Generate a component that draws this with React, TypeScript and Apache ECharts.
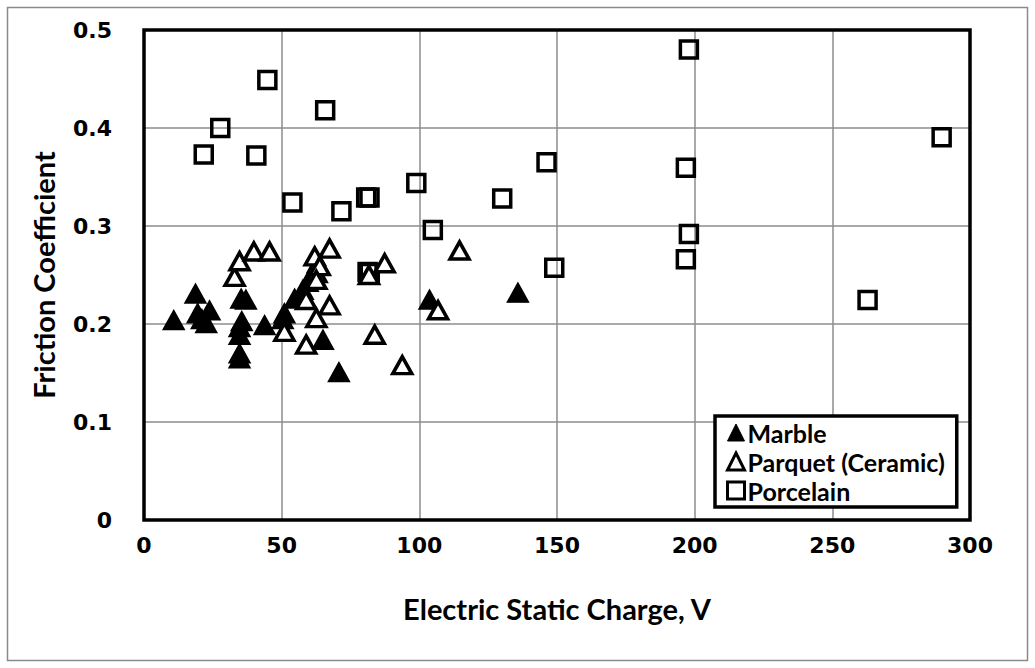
import React, { useEffect, useRef } from "react";
import * as echarts from "echarts";

const xTicks = [0, 50, 100, 150, 200, 250, 300];
const yTicks = [0, 0.1, 0.2, 0.3, 0.4, 0.5];

const marble: number[][] = [
  [10.8, 0.204], [18.7, 0.231], [19.5, 0.211], [23.8, 0.214], [22.6, 0.201], [21, 0.205],
  [35.3, 0.226], [37, 0.225], [34.7, 0.197], [35.5, 0.203], [34.7, 0.189], [34.7, 0.17],
  [34.7, 0.165], [43.8, 0.199], [51, 0.211], [50.4, 0.205], [54.7, 0.226], [57.7, 0.235],
  [59.5, 0.243], [61, 0.25], [63, 0.262], [65, 0.184], [70.8, 0.151], [103.7, 0.225],
  [135.8, 0.232],
];

const parquet: number[][] = [
  [32.9, 0.248], [34.7, 0.264], [39.9, 0.274], [45.6, 0.274], [62, 0.269], [67.4, 0.277],
  [62.6, 0.252], [63.8, 0.259], [62.6, 0.245], [58.9, 0.2245], [67.4, 0.219], [62.6, 0.206],
  [51, 0.192], [58.9, 0.179], [83.8, 0.189], [87.4, 0.262], [81.7, 0.25], [93.8, 0.158],
  [114.6, 0.275], [106.8, 0.214],
];

const porcelain: number[][] = [
  [44.8, 0.449], [65.8, 0.418], [27.7, 0.4], [21.7, 0.373], [40.8, 0.372], [53.9, 0.324],
  [71.7, 0.315], [80.7, 0.329], [81.9, 0.329], [98.9, 0.344], [104.9, 0.296], [81.2, 0.253],
  [82, 0.252], [146.2, 0.365], [130.1, 0.328], [149, 0.2575], [197.9, 0.48], [289.7, 0.3905],
  [196.8, 0.3595], [197.9, 0.2918], [196.8, 0.266], [262.8, 0.2245],
];

const seriesNames = ["Marble", "Parquet (Ceramic)", "Porcelain"];

export default function App() {
  const ref = useRef<HTMLDivElement>(null);
  useEffect(() => {
    if (!ref.current) return;
    const chart = echarts.init(ref.current, null, { renderer: "svg" });
    const tickFont = {
      fontFamily: "DejaVu Sans",
      fontWeight: "bold" as const,
      fontSize: 22,
      color: "#000",
    };
    const titleFont = { fontFamily: "Lato", fontWeight: "bold" as const, fontSize: 29, color: "#000" };
    const gl = 144, gr = 65, gt = 30, gb = 148;
    const marbleStyle = { color: "#000", borderColor: "#000", borderWidth: 1.5, opacity: 1 };
    const parquetStyle = { color: "#fff", borderColor: "#000", borderWidth: 3.5, opacity: 1 };
    const porcelainStyle = { color: "rgba(255,255,255,0)", borderColor: "#000", borderWidth: 3.5, opacity: 1 };
    chart.setOption({
      animation: false,
      backgroundColor: "#fff",
      graphic: [
        {
          type: "rect",
          shape: { x: 7.5, y: 7.5, width: 1020, height: 653 },
          style: { fill: "none", stroke: "#8a8a8a", lineWidth: 1.5 },
          silent: true,
          z: -10,
        },
        {
          type: "rect",
          shape: { x: gl, y: gt, width: 1035 - gl - gr, height: 668 - gt - gb },
          style: { fill: "none", stroke: "#000", lineWidth: 3.5 },
          silent: true,
          z: 1,
        },
      ],
      grid: { left: gl, right: gr, top: gt, bottom: gb, show: false },
      legend: {
        orient: "vertical",
        left: 715,
        top: 416,
        data: [
          { name: seriesNames[0], icon: "triangle", itemStyle: { ...marbleStyle, borderWidth: 1 } },
          { name: seriesNames[1], icon: "triangle", itemStyle: { ...parquetStyle, borderWidth: 3 } },
          { name: seriesNames[2], icon: "rect", itemStyle: { ...porcelainStyle, color: "#fff", borderWidth: 3 } },
        ],
        backgroundColor: "#fff",
        borderColor: "#000",
        borderWidth: 3.5,
        borderRadius: 0,
        padding: [4, 12, 4, 11],
        itemGap: 4,
        itemWidth: 17,
        itemHeight: 17,
        z: 10,
        textStyle: {
          fontFamily: "Lato",
          fontWeight: "bold",
          fontSize: 25,
          color: "#000",
          padding: [0, 0, 0, -2],
        },
      },
      xAxis: {
        type: "value",
        min: xTicks[0],
        max: xTicks[xTicks.length - 1],
        interval: 50,
        name: "Electric Static Charge, V",
        nameLocation: "middle",
        nameGap: 74,
        nameTextStyle: titleFont,
        axisLine: { show: false },
        axisTick: { show: false },
        axisLabel: { ...tickFont, margin: 14 },
        splitLine: { show: true, lineStyle: { color: "#8c8c8c", width: 1.5 } },
      },
      yAxis: {
        type: "value",
        min: yTicks[0],
        max: yTicks[yTicks.length - 1],
        interval: 0.1,
        name: "Friction Coefficient",
        nameLocation: "middle",
        nameGap: 86,
        nameTextStyle: titleFont,
        axisLine: { show: false },
        axisTick: { show: false },
        axisLabel: {
          ...tickFont,
          margin: 32,
          formatter: (v: number) => (v === 0 ? "0" : v.toFixed(1)),
        },
        splitLine: { show: true, lineStyle: { color: "#8c8c8c", width: 1.5 } },
      },
      series: [
        {
          name: seriesNames[2],
          type: "scatter",
          data: porcelain,
          symbol: "rect",
          symbolSize: 17,
          itemStyle: porcelainStyle,
          z: 2,
        },
        {
          name: seriesNames[0],
          type: "scatter",
          data: marble,
          symbol: "triangle",
          symbolSize: [21, 19],
          itemStyle: marbleStyle,
          z: 3,
        },
        {
          name: seriesNames[1],
          type: "scatter",
          data: parquet,
          symbol: "triangle",
          symbolSize: [19, 17],
          itemStyle: parquetStyle,
          z: 4,
        },
      ],
    });
    return () => chart.dispose();
  }, []);
  return (
    <div
      ref={ref}
      style={{ position: "fixed", left: 0, top: 0, width: 1035, height: 668 }}
    />
  );
}
